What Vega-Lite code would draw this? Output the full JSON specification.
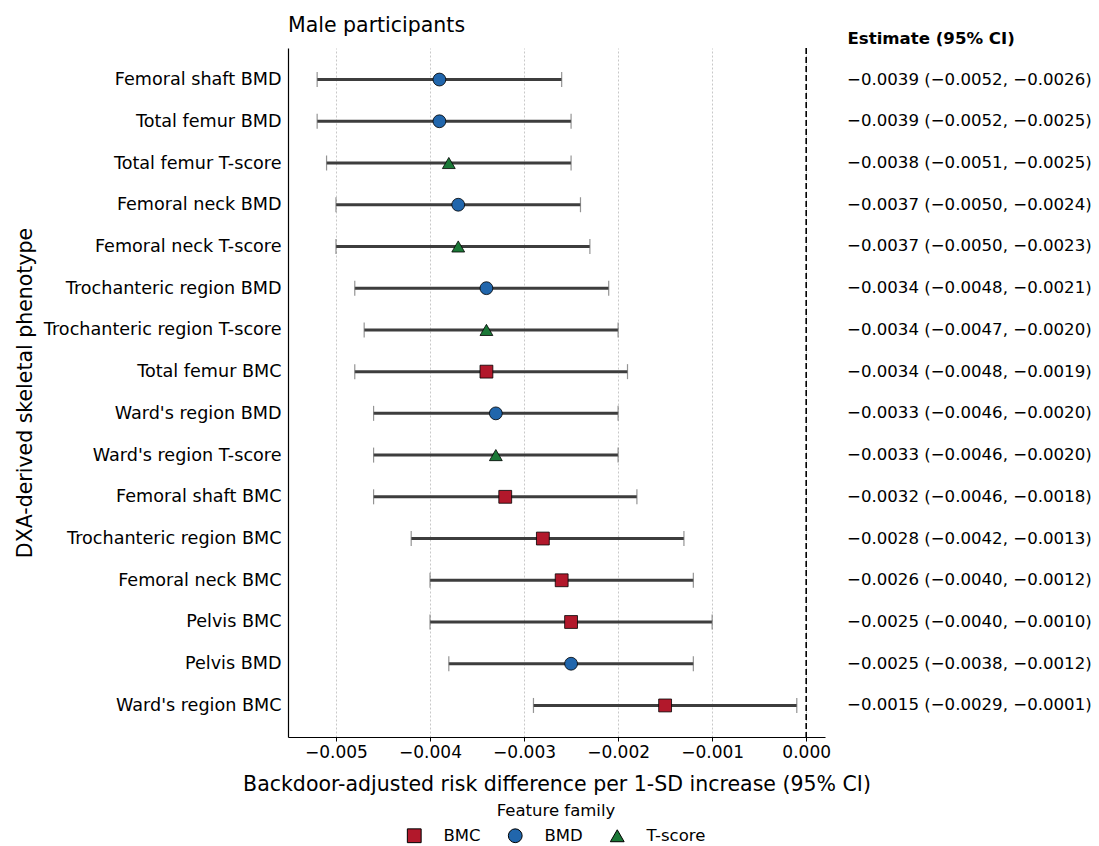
{
  "$schema": "https://vega.github.io/schema/vega-lite/v6.json",
  "background": "white",
  "padding": {"left": 15, "top": 15, "right": 4, "bottom": 2},
  "bounds": "flush",
  "spacing": 22,
  "config": {
    "font": "DejaVu Sans",
    "view": {"stroke": null},
    "legend": {"layout": {"bottom": {"anchor": "middle"}}}
  },
  "datasets": {
    "rows": [
      {"name": "Femoral shaft BMD", "family": "BMD", "est": -0.0039, "lo": -0.0052, "hi": -0.0026},
      {"name": "Total femur BMD", "family": "BMD", "est": -0.0039, "lo": -0.0052, "hi": -0.0025},
      {"name": "Total femur T-score", "family": "T-score", "est": -0.0038, "lo": -0.0051, "hi": -0.0025},
      {"name": "Femoral neck BMD", "family": "BMD", "est": -0.0037, "lo": -0.0050, "hi": -0.0024},
      {"name": "Femoral neck T-score", "family": "T-score", "est": -0.0037, "lo": -0.0050, "hi": -0.0023},
      {"name": "Trochanteric region BMD", "family": "BMD", "est": -0.0034, "lo": -0.0048, "hi": -0.0021},
      {"name": "Trochanteric region T-score", "family": "T-score", "est": -0.0034, "lo": -0.0047, "hi": -0.0020},
      {"name": "Total femur BMC", "family": "BMC", "est": -0.0034, "lo": -0.0048, "hi": -0.0019},
      {"name": "Ward's region BMD", "family": "BMD", "est": -0.0033, "lo": -0.0046, "hi": -0.0020},
      {"name": "Ward's region T-score", "family": "T-score", "est": -0.0033, "lo": -0.0046, "hi": -0.0020},
      {"name": "Femoral shaft BMC", "family": "BMC", "est": -0.0032, "lo": -0.0046, "hi": -0.0018},
      {"name": "Trochanteric region BMC", "family": "BMC", "est": -0.0028, "lo": -0.0042, "hi": -0.0013},
      {"name": "Femoral neck BMC", "family": "BMC", "est": -0.0026, "lo": -0.0040, "hi": -0.0012},
      {"name": "Pelvis BMC", "family": "BMC", "est": -0.0025, "lo": -0.0040, "hi": -0.0010},
      {"name": "Pelvis BMD", "family": "BMD", "est": -0.0025, "lo": -0.0038, "hi": -0.0012},
      {"name": "Ward's region BMC", "family": "BMC", "est": -0.0015, "lo": -0.0029, "hi": -0.0001}
    ]
  },
  "hconcat": [
    {
      "width": 537,
      "height": 689,
      "title": {
        "text": "Male participants",
        "anchor": "start",
        "frame": "group",
        "fontSize": 20.5,
        "fontWeight": "normal",
        "color": "black",
        "baseline": "bottom",
        "offset": -9
      },
      "layer": [
        {
          "data": {"name": "rows"},
          "mark": {"type": "rule", "color": "#3d3d3d", "strokeWidth": 3},
          "encoding": {
            "y": {
              "field": "name", "type": "nominal", "sort": null,
              "scale": {"type": "point", "padding": 0.756},
              "axis": {
                "title": "DXA-derived skeletal phenotype",
                "ticks": false,
                "labelPadding": 7,
                "labelFontSize": 17.6,
                "labelColor": "black",
                "labelLimit": 400,
                "grid": false,
                "domainColor": "black",
                "domainWidth": 1.2,
                "titleFontSize": 20.5,
                "titleFontWeight": "normal",
                "titleColor": "black",
                "titlePadding": 53
              }
            },
            "x": {
              "field": "lo", "type": "quantitative",
              "scale": {"domain": [-0.00551, 0.0002], "nice": false, "zero": false},
              "axis": {
                "title": "Backdoor-adjusted risk difference per 1-SD increase (95% CI)",
                "values": [-0.005, -0.004, -0.003, -0.002, -0.001, 0],
                "format": ".3f",
                "grid": true,
                "gridDash": [2, 2],
                "gridColor": "#c8c8c8",
                "gridWidth": 1,
                "tickSize": 4,
                "tickColor": "black",
                "domainColor": "black",
                "domainWidth": 1.2,
                "labelFontSize": 17,
                "labelColor": "black",
                "labelPadding": 3,
                "titleFontSize": 20.5,
                "titleFontWeight": "normal",
                "titleColor": "black",
                "titlePadding": 14
              }
            },
            "x2": {"field": "hi"}
          }
        },
        {
          "data": {"name": "rows"},
          "mark": {"type": "tick", "orient": "vertical", "color": "#666666", "thickness": 1.2, "size": 15},
          "encoding": {
            "y": {"field": "name", "type": "nominal", "sort": null},
            "x": {"field": "lo", "type": "quantitative"}
          }
        },
        {
          "data": {"name": "rows"},
          "mark": {"type": "tick", "orient": "vertical", "color": "#666666", "thickness": 1.2, "size": 15},
          "encoding": {
            "y": {"field": "name", "type": "nominal", "sort": null},
            "x": {"field": "hi", "type": "quantitative"}
          }
        },
        {
          "data": {"values": [{}]},
          "mark": {"type": "rule", "color": "black", "strokeDash": [6, 3], "strokeWidth": 1.6},
          "encoding": {
            "x": {"datum": 0, "type": "quantitative"}
          }
        },
        {
          "data": {"name": "rows"},
          "mark": {"type": "point", "filled": true, "opacity": 1, "size": 165, "stroke": "black", "strokeWidth": 0.8},
          "encoding": {
            "y": {"field": "name", "type": "nominal", "sort": null},
            "x": {"field": "est", "type": "quantitative"},
            "color": {
              "field": "family", "type": "nominal",
              "scale": {"domain": ["BMC", "BMD", "T-score"], "range": ["#b2182b", "#2166ac", "#1b7837"]},
              "legend": {
                "title": "Feature family",
                "orient": "bottom",
                "direction": "horizontal",
                "gridAlign": "none",
                "titleAnchor": "middle",
                "titleOrient": "top",
                "titleFontSize": 16.5,
                "titleFontWeight": "normal",
                "titleColor": "black",
                "titlePadding": 8,
                "labelFontSize": 16.5,
                "labelColor": "black",
                "labelOffset": 21,
                "columnPadding": 25,
                "symbolSize": 190,
                "symbolStrokeColor": "black",
                "symbolStrokeWidth": 1,
                "symbolOpacity": 1,
                "offset": 8,
                "encode": {
                  "symbols": {
                    "update": {
                      "stroke": {"value": "black"},
                      "strokeWidth": {"value": 1}
                    }
                  }
                }
              }
            },
            "shape": {
              "field": "family", "type": "nominal",
              "scale": {"domain": ["BMC", "BMD", "T-score"], "range": ["square", "circle", "triangle-up"]},
              "legend": {
                "title": "Feature family",
                "orient": "bottom",
                "direction": "horizontal",
                "gridAlign": "none",
                "titleAnchor": "middle",
                "titleOrient": "top",
                "titleFontSize": 16.5,
                "titleFontWeight": "normal",
                "titleColor": "black",
                "titlePadding": 8,
                "labelFontSize": 16.5,
                "labelColor": "black",
                "labelOffset": 21,
                "columnPadding": 25,
                "symbolSize": 190,
                "symbolStrokeColor": "black",
                "symbolStrokeWidth": 1,
                "symbolOpacity": 1,
                "offset": 8,
                "encode": {
                  "symbols": {
                    "update": {
                      "stroke": {"value": "black"},
                      "strokeWidth": {"value": 1}
                    }
                  }
                }
              }
            }
          }
        }
      ]
    },
    {
      "width": 250,
      "height": 689,
      "data": {"name": "rows"},
      "transform": [
        {"calculate": "format(datum.est, '.4f') + ' (' + format(datum.lo, '.4f') + ', ' + format(datum.hi, '.4f') + ')'", "as": "ci_text"}
      ],
      "mark": {"type": "text", "align": "left", "baseline": "middle", "fontSize": 16.6, "color": "black"},
      "encoding": {
        "y": {
          "field": "name", "type": "nominal", "sort": null,
          "scale": {"type": "point", "padding": 0.756},
          "axis": null
        },
        "x": {
          "datum": "Estimate (95% CI)", "type": "nominal",
          "scale": {"type": "point", "padding": 0, "align": 0},
          "axis": {
            "orient": "top",
            "title": null,
            "domain": false,
            "ticks": false,
            "grid": false,
            "labelAngle": 0,
            "labelFontWeight": "bold",
            "labelFontSize": 16.6,
            "labelColor": "black",
            "labelAlign": "left",
            "labelBaseline": "alphabetic",
            "labelPadding": 5,
            "labelLimit": 400
          }
        },
        "text": {"field": "ci_text"}
      }
    }
  ]
}
